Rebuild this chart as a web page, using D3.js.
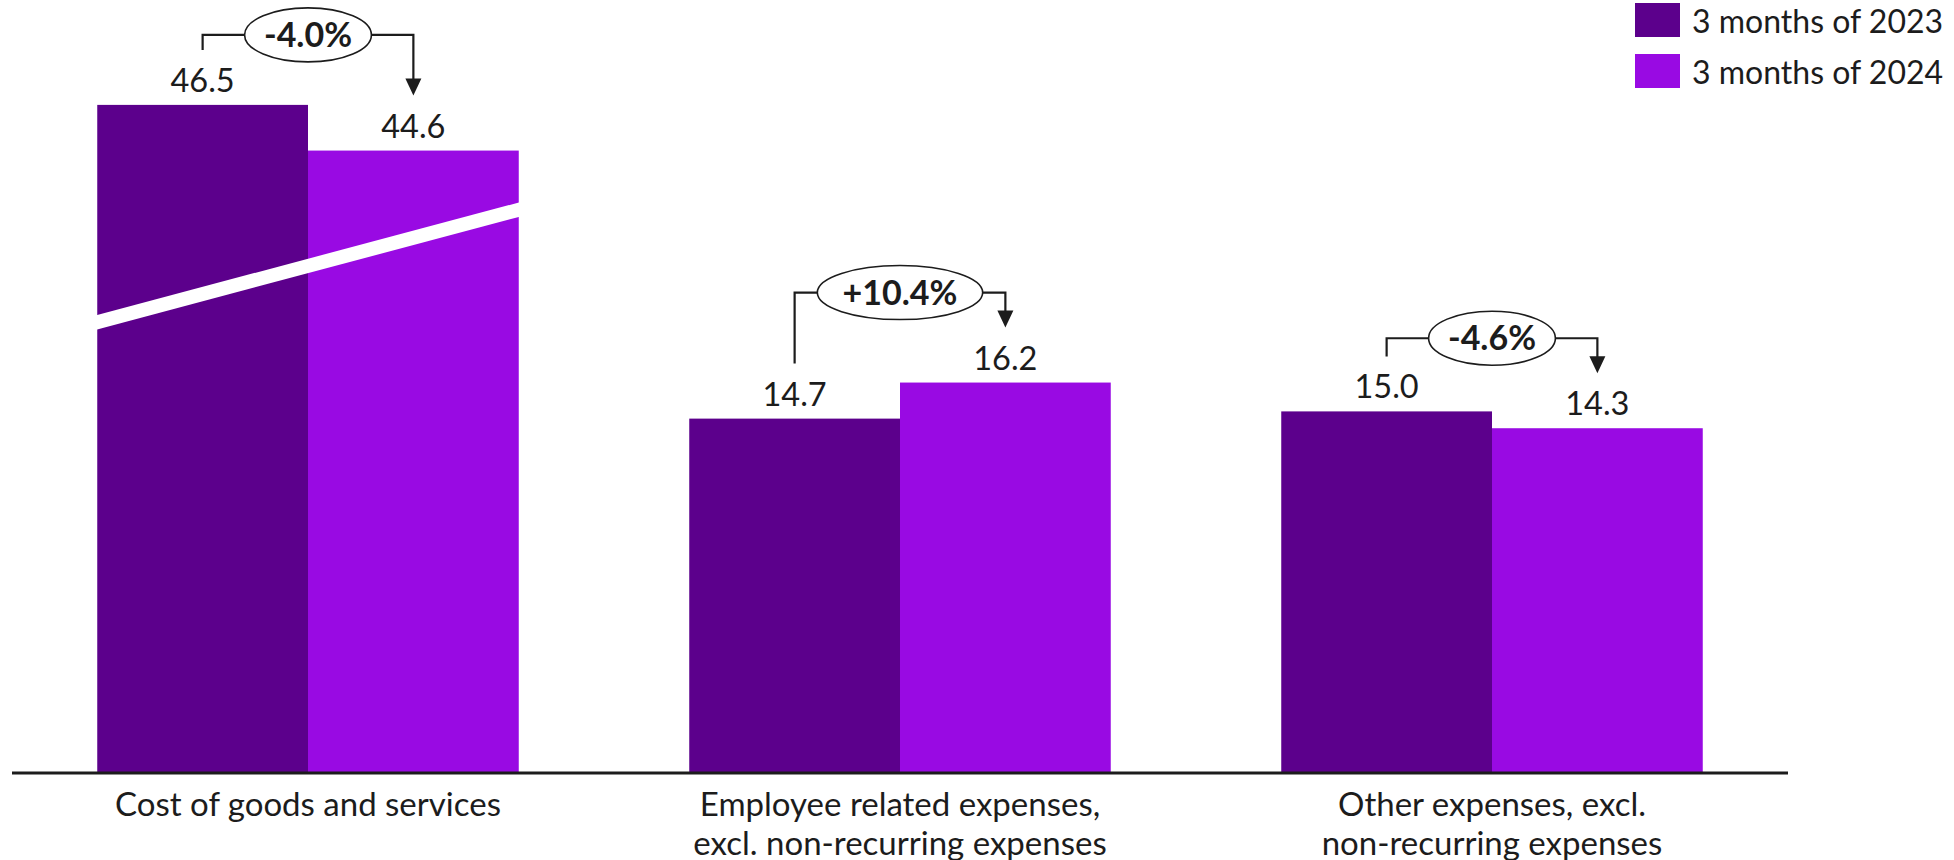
<!DOCTYPE html>
<html>
<head>
<meta charset="utf-8">
<script src="https://cdn.jsdelivr.net/npm/d3@7"></script>
<style>
    body { margin: 0; background: #ffffff; }
    text { font-family: Lato, "Open Sans", sans-serif; fill: #1c1c1c; }
</style>
</head>
<body>
<svg id="chart"></svg>
<script>
var categories = [
    ["Cost of goods and services"],
    ["Employee related expenses,", "excl. non-recurring expenses"],
    ["Other expenses, excl.", "non-recurring expenses"]
];
var seriesNames = ["3 months of 2023", "3 months of 2024"];
var values2023 = [46.5, 14.7, 15.0];
var values2024 = [44.6, 16.2, 14.3];
var changeLabels = ["-4.0%", "+10.4%", "-4.6%"];
// part of the axis cut away by the break on the first group
var axisCut = [18.75, 0, 0];
var breakLine = [[18.7, 23.4], null, null];
var colors = ["#5c008c", "#990ae3"];

var dimensions = {
    width: 1954,
    height: 860,
    axisLeft: 12,
    axisRight: 1788,
    baseline: 772
};

renderChart();

function renderChart(){
    var chart = d3.select("#chart")
        .attr("width", dimensions.width)
        .attr("height", dimensions.height);

    var xScale = d3.scaleBand()
        .domain(d3.range(categories.length))
        .range([dimensions.axisLeft, dimensions.axisRight])
        .paddingInner(0.288)
        .paddingOuter(0.144);
    var seriesScale = d3.scaleBand()
        .domain([0, 1])
        .range([0, xScale.bandwidth()]);
    var yScale = d3.scaleLinear()
        .domain([0, 30])
        .range([dimensions.baseline, dimensions.baseline - 30 * 24.04]);

    var data = categories.map(function(label, i){
        return {
            index: i,
            label: label,
            values: [values2023[i], values2024[i]],
            cut: axisCut[i],
            change: changeLabels[i],
            brk: breakLine[i]
        };
    });

    var group = chart.selectAll("g.group")
        .data(data)
        .enter()
        .append("g")
        .attr("class", "group")
        .attr("transform", function(d){ return `translate(${xScale(d.index)}, 0)`; });

    attachBars(group, seriesScale, yScale);
    attachBreaks(group, seriesScale, yScale);
    attachValueLabels(group, seriesScale, yScale);
    attachChangeBrackets(group, seriesScale, yScale);
    attachAxis(chart, xScale);
    attachLegend(chart);
}

function barTop(d, s, yScale){
    return yScale(d.values[s] - d.cut);
}

function attachBars(group, seriesScale, yScale){
    group.selectAll("rect.bar")
        .data(function(d){ return [0, 1].map(function(s){ return { s: s, d: d }; }); })
        .enter()
        .append("rect")
        .attr("class", "bar")
        .attr("x", function(e){ return seriesScale(e.s); })
        .attr("width", seriesScale.bandwidth())
        .attr("y", function(e){ return barTop(e.d, e.s, yScale); })
        .attr("height", function(e){ return yScale(0) - barTop(e.d, e.s, yScale); })
        .style("fill", function(e){ return colors[e.s]; });
}

function attachBreaks(group, seriesScale, yScale){
    var half = 0.3;
    group.filter(function(d){ return d.brk; })
        .append("polygon")
        .attr("points", function(d){
            var x0 = seriesScale.range()[0] - 1;
            var x1 = seriesScale.range()[1] + 1;
            return [
                [x0, yScale(d.brk[0] + half)],
                [x1, yScale(d.brk[1] + half)],
                [x1, yScale(d.brk[1] - half)],
                [x0, yScale(d.brk[0] - half)]
            ].join(" ");
        })
        .style("fill", "#ffffff");
}

function attachValueLabels(group, seriesScale, yScale){
    group.selectAll("text.value")
        .data(function(d){ return [0, 1].map(function(s){ return { s: s, d: d }; }); })
        .enter()
        .append("text")
        .attr("class", "value")
        .attr("x", function(e){ return seriesScale(e.s) + seriesScale.bandwidth() / 2; })
        .attr("y", function(e){ return barTop(e.d, e.s, yScale) - 13; })
        .attr("text-anchor", "middle")
        .style("font-size", "32.5px")
        .text(function(e){ return e.d.values[e.s].toFixed(1); });
}

function attachChangeBrackets(group, seriesScale, yScale){
    group.each(function(d){
        var g = d3.select(this);
        var xa = seriesScale(0) + seriesScale.bandwidth() / 2;
        var xb = seriesScale(1) + seriesScale.bandwidth() / 2;
        var xm = seriesScale(1);
        var legEnd = barTop(d, 0, yScale) - 55;
        var arrowTip = barTop(d, 1, yScale) - 55;
        var lineY = Math.min(legEnd - 15, arrowTip - 35);

        var label = g.append("text")
            .attr("x", xm)
            .attr("y", lineY + 12)
            .attr("text-anchor", "middle")
            .style("font-size", "34px")
            .style("font-weight", "bold")
            .text(d.change);
        var rx = label.node().getComputedTextLength() * 0.72;
        var ry = 27;

        g.insert("ellipse", "text")
            .attr("cx", xm)
            .attr("cy", lineY)
            .attr("rx", rx)
            .attr("ry", ry)
            .style("fill", "#ffffff")
            .style("stroke", "#1c1c1c")
            .style("stroke-width", 1.6);

        var line = d3.line();
        g.append("path")
            .attr("d", line([[xa, legEnd], [xa, lineY], [xm - rx, lineY]]))
            .style("fill", "none")
            .style("stroke", "#1c1c1c")
            .style("stroke-width", 2.2);
        g.append("path")
            .attr("d", line([[xm + rx, lineY], [xb, lineY], [xb, arrowTip - 14]]))
            .style("fill", "none")
            .style("stroke", "#1c1c1c")
            .style("stroke-width", 2.2);
        g.append("polygon")
            .attr("points", [[xb - 8, arrowTip - 17], [xb + 8, arrowTip - 17], [xb, arrowTip]].join(" "))
            .style("fill", "#1c1c1c");
    });
}

function attachAxis(chart, xScale){
    chart.append("line")
        .attr("x1", dimensions.axisLeft)
        .attr("x2", dimensions.axisRight)
        .attr("y1", dimensions.baseline + 1)
        .attr("y2", dimensions.baseline + 1)
        .style("stroke", "#1c1c1c")
        .style("stroke-width", 3);

    var labels = chart.selectAll("text.category")
        .data(categories)
        .enter()
        .append("text")
        .attr("class", "category")
        .attr("text-anchor", "middle")
        .attr("transform", function(d, i){
            return `translate(${xScale(i) + xScale.bandwidth() / 2}, ${dimensions.baseline + 44})`;
        })
        .style("font-size", "33px");
    labels.selectAll("tspan")
        .data(function(d){ return d; })
        .enter()
        .append("tspan")
        .attr("x", 0)
        .attr("dy", function(d, i){ return i === 0 ? 0 : 39; })
        .text(function(d){ return d; });
}

function attachLegend(chart){
    var item = chart.selectAll("g.legend")
        .data(seriesNames)
        .enter()
        .append("g")
        .attr("class", "legend")
        .attr("transform", function(d, i){ return `translate(1635, ${3 + i * 51})`; });
    item.append("rect")
        .attr("width", 45)
        .attr("height", 34)
        .style("fill", function(d, i){ return colors[i]; });
    item.append("text")
        .attr("x", 57)
        .attr("y", 30)
        .style("font-size", "32px")
        .text(function(d){ return d; });
}
</script>
</body>
</html>
